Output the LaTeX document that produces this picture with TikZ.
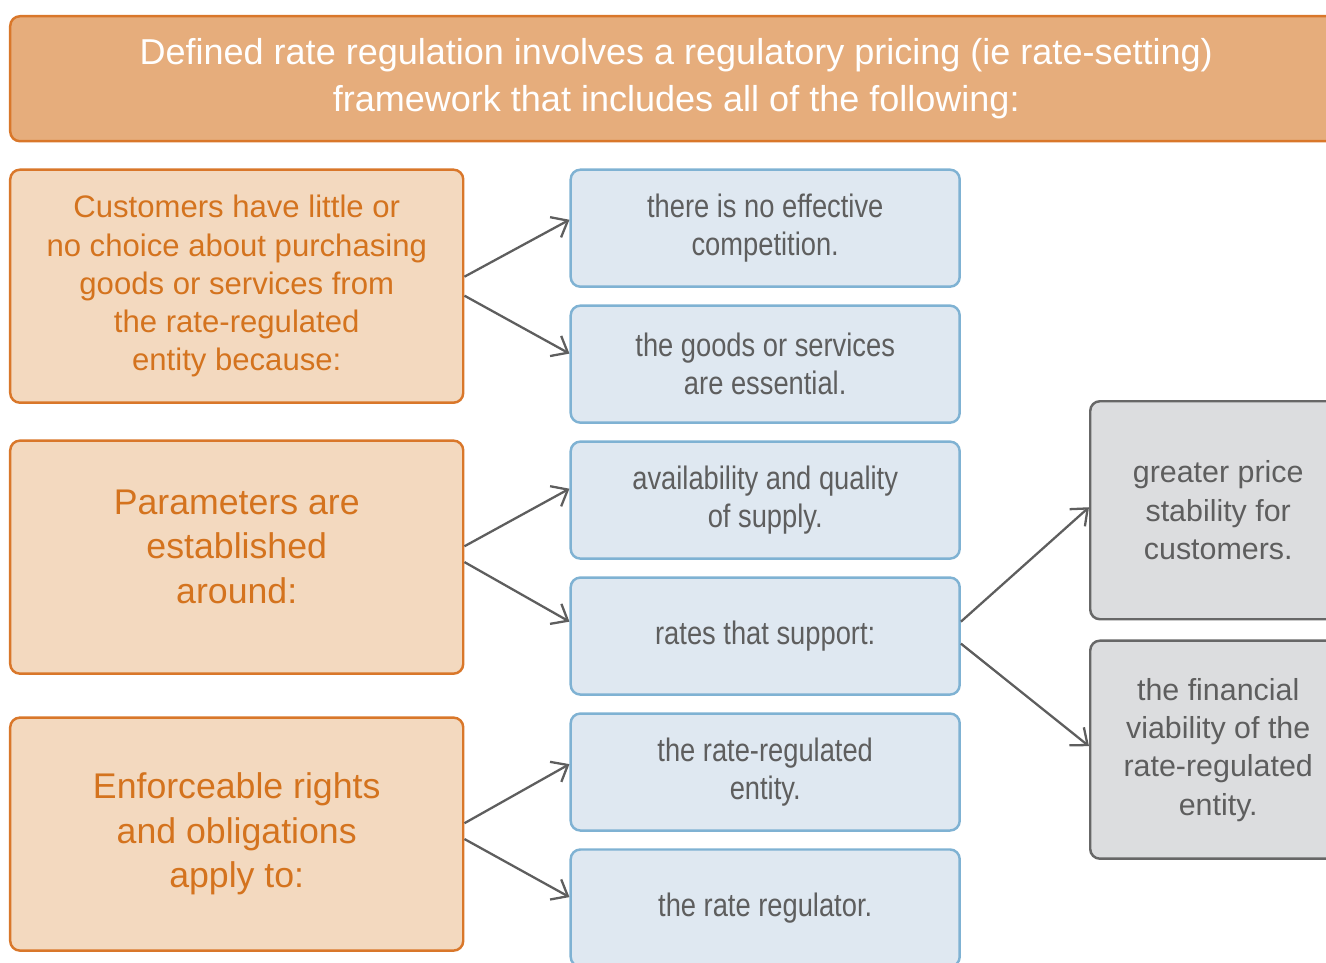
\documentclass[tikz,border=0pt]{standalone}
\usepackage{fontspec}
\setmainfont{Liberation Sans}
\newfontfamily\narrowfont[FakeStretch=0.84]{Liberation Sans}
\usepackage{xcolor}
\usepackage{tikz}
\usetikzlibrary{arrows.meta,positioning}
\definecolor{ocre}{HTML}{D9772A}
\definecolor{ocreclaro}{HTML}{F3D9BF}
\definecolor{ocrefondo}{HTML}{E6AD7C}
\definecolor{ocretexto}{HTML}{D4731E}
\definecolor{celeste}{HTML}{7FB2D3}
\definecolor{celesteclaro}{HTML}{DFE8F1}
\definecolor{gris}{HTML}{5E5E5E}
\definecolor{grisborde}{HTML}{676767}
\definecolor{grisclaro}{HTML}{DCDDDF}

\begin{document}
\begin{tikzpicture}[
      node distance=0.33cm and 2.1cm,
      cabeza/.style={rectangle, rounded corners=5.5pt, draw=ocre, fill=ocrefondo, line width=1.4pt,
                     minimum width=26.64cm, minimum height=2.5cm, align=center, text=white,
                     font=\fontsize{20.5}{26.6}\selectfont},
      causa/.style={rectangle, rounded corners=5.5pt, draw=ocre, fill=ocreclaro, line width=1.4pt,
                    minimum width=9.06cm, minimum height=4.66cm, align=center, text=ocretexto,
                    font=\fontsize{20.3}{25.3}\selectfont},
      hecho/.style={rectangle, rounded corners=5.5pt, draw=celeste, fill=celesteclaro, line width=1.4pt,
                    minimum width=7.78cm, minimum height=2.34cm, align=center, text=gris,
                    font=\narrowfont\fontsize{18.5}{21.6}\selectfont},
      efecto/.style={rectangle, rounded corners=5.5pt, draw=grisborde, fill=grisclaro, line width=1.4pt,
                     minimum width=5.12cm, minimum height=4.36cm, align=center, text=gris,
                     font=\fontsize{17.3}{21.8}\selectfont},
      flecha/.style={-{Straight Barb[length=2.8mm, width=4.6mm]}, draw=gris, line width=1.3pt}]

    \path[use as bounding box, clip] (0,0) rectangle (26.52,-19.26);

    \node[cabeza, anchor=north west] (top) at (0.18,-0.30)
      {Defined rate regulation involves a regulatory pricing (ie rate-setting)\\framework that includes all of the following:};

    % left column
    \node[causa, below=0.52cm of top.south west, anchor=north west, font=\fontsize{17.7}{21.7}\selectfont] (c1)
      {Customers have little or\\no choice about purchasing\\goods or services from\\the rate-regulated\\entity because:};
    \node[causa, below=0.71cm of c1, text depth=12pt] (c2) {Parameters are\\established\\around:};
    \node[causa, below=0.83cm of c2] (c3) {Enforceable rights\\and obligations\\apply to:};

    % middle column
    \node[hecho, right=2.1cm of c1.north east, anchor=north west] (b1) {there is no effective\\competition.};
    \node[hecho, below=of b1] (b2) {the goods or services\\are essential.};
    \node[hecho, below=of b2] (b3) {availability and quality\\of supply.};
    \node[hecho, below=of b3] (b4) {rates that support:};
    \node[hecho, below=of b4] (b5) {the rate-regulated\\entity.};
    \node[hecho, below=of b5] (b6) {the rate regulator.};

    % right column
    \node[efecto, anchor=north west] (g1) at (21.78,-8.0) {greater price\\stability for\\customers.};
    \node[efecto, below=0.38cm of g1] (g2) {the financial\\viability of the\\rate-regulated\\entity.};

    \draw[flecha] ([yshift=5.4pt]c1.east) -- ([yshift=4.8pt]b1.west);
    \draw[flecha] ([yshift=-5.4pt]c1.east) -- ([yshift=6pt]b2.west);
    \draw[flecha] ([yshift=6.2pt]c2.east) -- ([yshift=6.5pt]b3.west);
    \draw[flecha] ([yshift=-2.8pt]c2.east) -- ([yshift=8.2pt]b4.west);
    \draw[flecha] ([yshift=6.2pt]c3.east) -- ([yshift=4.5pt]b5.west);
    \draw[flecha] ([yshift=-2.8pt]c3.east) -- ([yshift=6.2pt]b6.west);
    \draw[flecha] ([yshift=8.2pt]b4.east) -- ([yshift=1.7pt]g1.west);
    \draw[flecha] ([yshift=-4.3pt]b4.east) -- ([yshift=2pt]g2.west);
  \end{tikzpicture}
\end{document}
